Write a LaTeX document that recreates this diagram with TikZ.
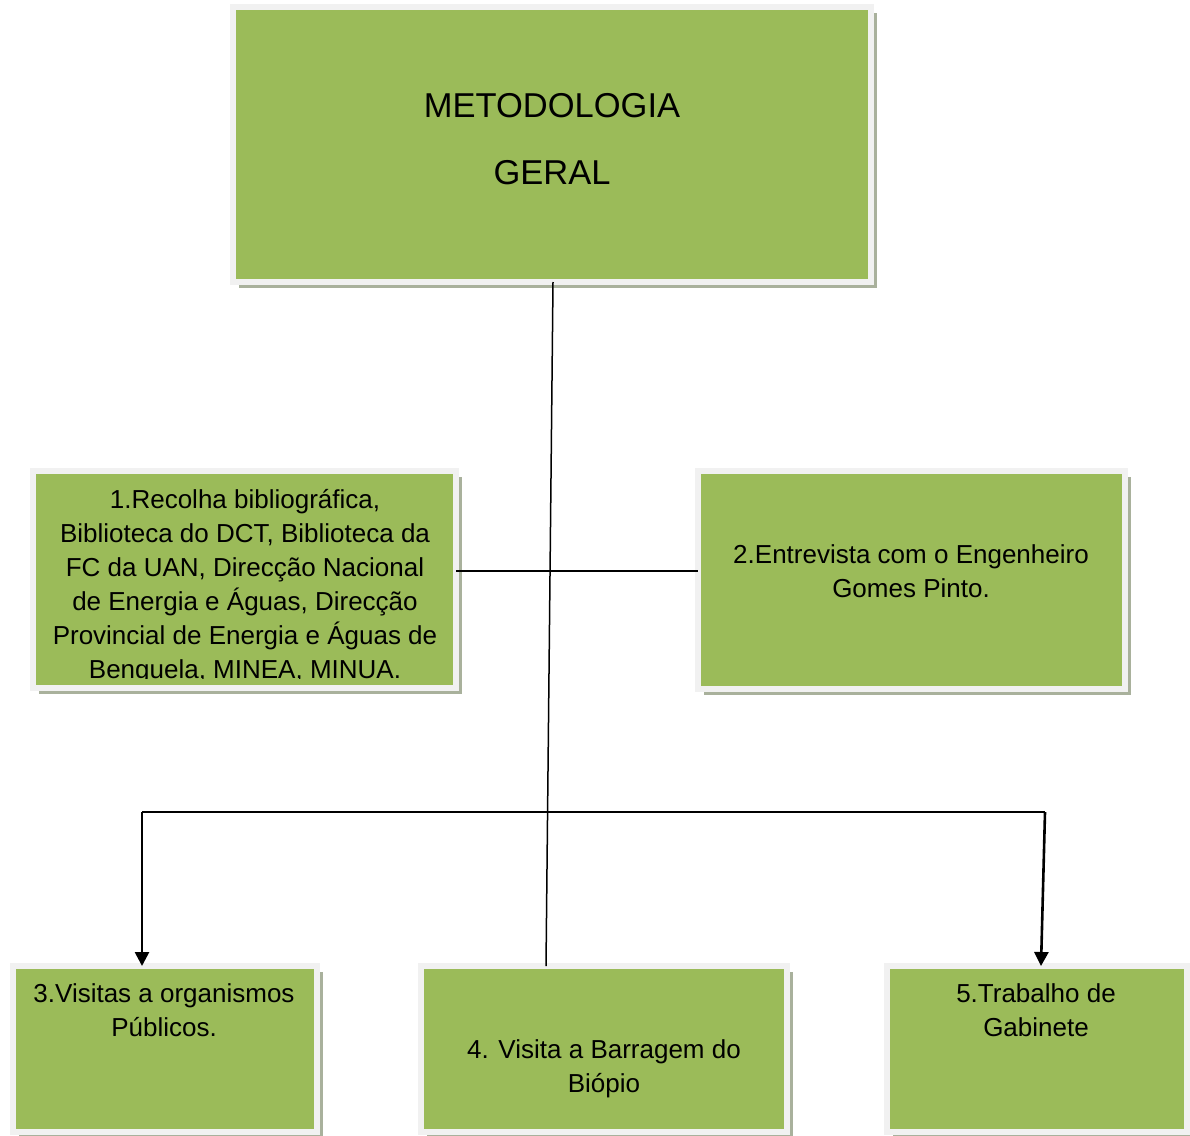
\documentclass[tikz,border=0pt]{standalone}
\usepackage{fontspec}
\setmainfont{Liberation Sans}
\usetikzlibrary{arrows.meta,shadows}
\definecolor{boxgreen}{HTML}{9BBB59}
\definecolor{framegray}{HTML}{F1F1F1}
\definecolor{shadowgray}{HTML}{A9B19C}

\begin{document}
\begin{tikzpicture}[x=1pt,y=-1pt,
  greenbox/.style={draw=framegray, line width=6pt, fill=boxgreen, anchor=north west,
    inner sep=0pt, outer sep=0pt,
    drop shadow={shadow xshift=6pt, shadow yshift=-6pt, fill=shadowgray, opacity=1}},
  boxtext/.style={anchor=base, inner sep=0pt, font=\fontsize{26}{34}\selectfont},
  titletext/.style={anchor=base, inner sep=0pt, font=\fontsize{34.5}{40}\selectfont},
  link/.style={draw=black, line width=1.5pt},
  flow/.style={draw=black, line width=2.6pt, -{Triangle[length=14pt,width=14pt]}}]

\useasboundingbox (0,0) rectangle (1190,1135);

% boxes
\node[greenbox, minimum width=638pt, minimum height=275pt] (top) at (233,7) {};
\node[greenbox, minimum width=423pt, minimum height=217pt] (b1) at (33,471) {};
\node[greenbox, minimum width=427pt, minimum height=218pt] (b2) at (698,471) {};
\node[greenbox, minimum width=304pt, minimum height=166pt] (b3) at (13,966) {};
\node[greenbox, minimum width=366pt, minimum height=166pt] (b4) at (421,966) {};
\node[greenbox, minimum width=300pt, minimum height=166pt] (b5) at (887,966) {};

% title
\node[titletext] (t0a) at (552,117) {METODOLOGIA};
\node[titletext] (t0b) at (552,184) {GERAL};

% box 1 text, cut off at the lower edge
\begin{scope}
  \clip (36,474) rectangle (453,678);
  \foreach \line [count=\i from 0] in {%
      1.Recolha bibliográfica{,},
      Biblioteca do DCT{,} Biblioteca da,
      FC da UAN{,} Direcção Nacional,
      de Energia e Águas{,} Direcção,
      Provincial de Energia e Águas de,
      Benguela{,} MINEA{,} MINUA.}
    \node[boxtext] (t1-\i) at (245,508+34*\i) {\line};
\end{scope}

\node[boxtext] (t2a) at (911,563) {2.Entrevista com o Engenheiro};
\node[boxtext] (t2b) at (911,597) {Gomes Pinto.};

\node[boxtext] (t3a) at (164,1002.5) {3.Visitas a organismos};
\node[boxtext] (t3b) at (164,1036.5) {Públicos.};

\node[boxtext] (t4a) at (604,1058.5) {4. Visita a Barragem do};
\node[boxtext] (t4b) at (604,1092.5) {Biópio};

\node[boxtext] (t5a) at (1036,1002.5) {5.Trabalho de};
\node[boxtext] (t5b) at (1036,1036.5) {Gabinete};

% connectors
\draw[link] ([xshift=1pt]top.south) -- ([xshift=-58pt]b4.north);
\draw[link] ([yshift=8.5pt]b1.east) -- ([yshift=9pt]b2.west);

\coordinate (jl) at (142,812);
\coordinate (jr) at (1045,812);
\draw[link] (jl) -- (jr);
\draw[flow] (jl) -- ([xshift=-23pt]b3.north);
\draw[flow] (jr) -- ([xshift=4pt]b5.north);
\end{tikzpicture}
\end{document}
